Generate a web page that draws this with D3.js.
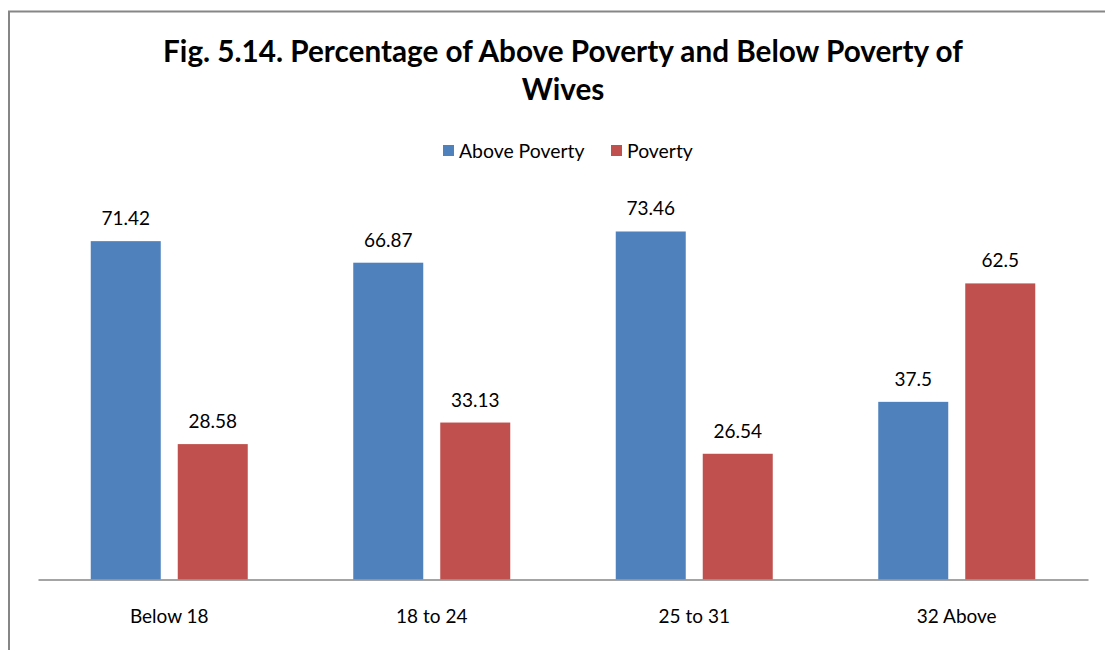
<!DOCTYPE html>
<html>
<head>
<meta charset="utf-8">
<script src="https://cdn.jsdelivr.net/npm/d3@7"></script>
<style>
  html, body { margin: 0; padding: 0; background: #fff; }
  svg { display: block; }
  text { font-family: Lato, "Open Sans", sans-serif; fill: #000; }
</style>
</head>
<body>
<script>
// Age groups of wives and the share in each poverty status (%)
const categories = ["Below 18", "18 to 24", "25 to 31", "32 Above"];
const seriesNames = ["Above Poverty", "Poverty"];
const abovePoverty = [71.42, 66.87, 73.46, 37.5];
const poverty = [28.58, 33.13, 26.54, 62.5];
const seriesColors = ["#4F81BD", "#C0504D"];
const titleLines = ["Fig. 5.14. Percentage of Above Poverty and Below Poverty of", "Wives"];

const W = 1105, H = 650;
const svg = d3.select("body").append("svg").attr("width", W).attr("height", H);

// chart frame
svg.append("rect")
  .attr("x", 9).attr("y", 11.5)
  .attr("width", W + 20).attr("height", H + 20)
  .attr("fill", "#fff").attr("stroke", "#868686").attr("stroke-width", 2);

const plot = { left: 38, right: 1088, top: 200.5, bottom: 579.5 };

const x0 = d3.scaleBand().domain(categories).range([plot.left, plot.right]).padding(0);
const groupW = 157;
const x1 = d3.scaleBand().domain(seriesNames)
  .range([(x0.bandwidth() - groupW) / 2, (x0.bandwidth() + groupW) / 2])
  .paddingInner(17 / 87).paddingOuter(0);
const y = d3.scaleLinear().domain([0, 80]).range([plot.bottom, plot.top]);

const rows = categories.map((c, i) => ({
  cat: c,
  vals: [
    { s: seriesNames[0], v: abovePoverty[i], color: seriesColors[0] },
    { s: seriesNames[1], v: poverty[i], color: seriesColors[1] }
  ]
}));

const groups = svg.append("g").selectAll("g").data(rows).join("g")
  .attr("transform", d => `translate(${x0(d.cat)},0)`);

groups.selectAll("rect").data(d => d.vals).join("rect")
  .attr("x", d => x1(d.s))
  .attr("width", x1.bandwidth())
  .attr("y", d => y(d.v))
  .attr("height", d => y(0) - y(d.v))
  .attr("fill", d => d.color);

groups.selectAll("text.val").data(d => d.vals).join("text")
  .attr("class", "val")
  .attr("x", d => x1(d.s) + x1.bandwidth() / 2)
  .attr("y", d => y(d.v) - 16)
  .attr("text-anchor", "middle")
  .style("font-size", "19px")
  .text(d => d.v);

// category axis
const axis = svg.append("g")
  .attr("transform", `translate(0,${plot.bottom})`)
  .call(d3.axisBottom(x0).tickSize(0).tickSizeOuter(0));
axis.select(".domain").attr("stroke", "#868686").attr("stroke-width", 1.5);
axis.selectAll("text")
  .attr("y", 43.5).attr("dy", 0)
  .style("font-size", "19px")
  .style("font-family", "Lato, 'Open Sans', sans-serif")
  .attr("fill", "#000");

// title
const title = svg.append("text")
  .attr("x", 563).attr("text-anchor", "middle")
  .style("font-weight", "bold").style("font-size", "29.7px");
title.selectAll("tspan").data(titleLines).join("tspan")
  .attr("x", 563)
  .attr("y", (d, i) => 62 + i * 37.5)
  .text(d => d);

// legend
const legend = svg.append("g");
const legendItems = [
  { name: seriesNames[0], color: seriesColors[0], x: 443 },
  { name: seriesNames[1], color: seriesColors[1], x: 611 }
];
const li = legend.selectAll("g").data(legendItems).join("g")
  .attr("transform", d => `translate(${d.x},145)`);
li.append("rect").attr("width", 11).attr("height", 11).attr("fill", d => d.color);
li.append("text").attr("x", 16).attr("y", 12.5)
  .style("font-size", "19.4px").text(d => d.name);
</script>
</body>
</html>
